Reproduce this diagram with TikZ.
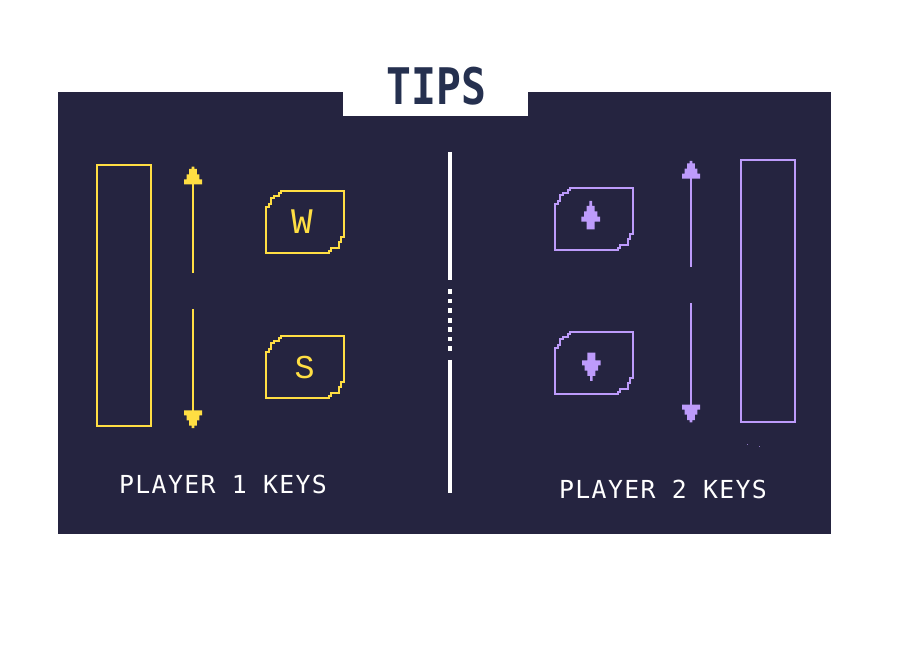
\documentclass[tikz,border=0pt]{standalone}
\usepackage{fontspec}
\setmainfont{Liberation Mono}
\newfontfamily\tipsfont{DejaVu Sans Mono Bold}
\newfontfamily\capfont{DejaVu Sans Mono}[LetterSpace=5.5]
\definecolor{panelc}{HTML}{252440}
\definecolor{yel}{HTML}{FFDE43}
\definecolor{pur}{HTML}{BD9BFB}
\definecolor{navy}{HTML}{25304F}
\tikzset{
  x=0.75pt,y=-0.75pt,
  paddle/.style={draw=#1,line width=1.9pt,inner sep=0pt,minimum width=40.5pt},
  stem/.style={draw=#1,line width=1.9pt},
  divline/.style={draw=white,line width=3.6pt},
  divdot/.style={fill=white,inner sep=0pt,minimum size=3.6pt},
  keylabel/.style={text=yel,inner sep=0pt,font=\fontsize{27}{27}\selectfont},
  caption/.style={text=white,inner sep=0pt,font=\capfont\fontsize{18.6}{18.6}\selectfont},
  pics/headup/.style={code={
    \fill[#1] (-1.3,0)--(1.3,0)--(1.3,2.3)--(3.8,2.3)--(3.8,7.7)--(6.3,7.7)--(6.3,12.7)--(9,12.7)--(9,17.7)
      --(-9,17.7)--(-9,12.7)--(-6.3,12.7)--(-6.3,7.7)--(-3.8,7.7)--(-3.8,2.3)--(-1.3,2.3)--cycle;}},
  pics/keyglyph/.style={code={
    \fill[pur] (-1.3,0)--(1.3,0)--(1.3,5)--(4,5)--(4,10.3)--(6.7,10.3)--(6.7,15.7)--(9.3,15.7)--(9.3,20.7)
      --(4,20.7)--(4,28.3)--(-4,28.3)--(-4,20.7)--(-9.3,20.7)--(-9.3,15.7)--(-6.7,15.7)--(-6.7,10.3)--(-4,10.3)--(-4,5)--(-1.3,5)--cycle;}},
  pics/keybox/.style={code={
    \draw[#1,line width=1.9pt,miter limit=10]
      (-39,-15)--(-36,-15)--(-36,-18)--(-34,-18)--(-34,-24)--(-31,-24)--(-31,-26)
      --(-26,-26)--(-26,-29)--(-24,-29)--(-24,-31)--(39,-31)
      --(39,15)--(36,15)--(36,20)--(34,20)--(34,26)--(26,26)--(26,29)--(24,29)--(24,31)
      --(-39,31)--cycle;}}
}
\begin{document}
\begin{tikzpicture}
\useasboundingbox (0,0) rectangle (900,670);
\fill[white] (0,0) rectangle (900,670);
\fill[panelc] (58,92) rectangle (831,534);
\fill[white] (343,92) rectangle (528,116);
\node[text=navy,inner sep=0pt] (title) at (436.5,86) {\tipsfont\fontsize{31}{31}\selectfont\scalebox{1}[1.22]{TIPS}};

% left player
\node[paddle=yel,minimum height=195.75pt] (padA) at (124,295.5) {};
\coordinate (upAtip) at (193,166.7);
\coordinate (upAend) at (193,272.7);
\coordinate (dnAstart) at (193,309);
\coordinate (dnAtip) at (193,428);
\draw[stem=yel] (upAtip) ++(0,14) -- (upAend);
\draw[stem=yel] (dnAstart) -- ([yshift=10pt]dnAtip);
\pic at (upAtip) {headup=yel};
\pic[yscale=-1] at (dnAtip) {headup=yel};
\pic at (305,222) {keybox=yel};
\node[keylabel] (keyW) at (302,221.5) {W};
\pic at (305,367) {keybox=yel};
\node[keylabel,font=\fontsize{25}{25}\selectfont] (keyS) at (304.7,368) {S};
\node[caption] (capA) at (223,484.5) {PLAYER 1 KEYS};

% divider
\coordinate (divA) at (450,152);
\coordinate (divB) at (450,280);
\coordinate (divC) at (450,360);
\coordinate (divD) at (450,493);
\draw[divline] (divA) -- (divB);
\draw[divline] (divC) -- (divD);
\foreach \yy/\nn in {291.7/1,301/2,310.7/3,320.3/4,329.7/5,339/6,348.7/7}
  \node[divdot] (dot\nn) at (450,\yy) {};

% right player
\node[paddle=pur,minimum height=196.5pt] (padB) at (768,291) {};
\coordinate (upBtip) at (691,161);
\coordinate (upBend) at (691,266.7);
\coordinate (dnBstart) at (691,303.3);
\coordinate (dnBtip) at (691,422.3);
\draw[stem=pur] (upBtip) ++(0,14) -- (upBend);
\draw[stem=pur] (dnBstart) -- ([yshift=10pt]dnBtip);
\pic at (upBtip) {headup=pur};
\pic[yscale=-1] at (dnBtip) {headup=pur};
\pic at (594,219) {keybox=pur};
\pic at (590.7,201) {keyglyph};
\pic at (594,363) {keybox=pur};
\pic[yscale=-1] at (591.3,381) {keyglyph};
\node[caption] (capB) at (663,489) {PLAYER 2 KEYS};
\fill[pur!70!panelc] (746.8,443.9) rectangle (747.8,444.8);
\fill[pur!70!panelc] (758.9,445.9) rectangle (759.7,446.8);
\end{tikzpicture}
\end{document}
